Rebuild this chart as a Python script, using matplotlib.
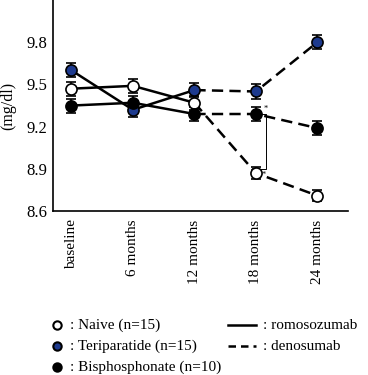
import matplotlib
matplotlib.use("Agg")
import matplotlib.pyplot as plt
from matplotlib.lines import Line2D

plt.rcParams['font.family'] = ['Liberation Serif', 'DejaVu Serif']

# datos
etiquetas = ['baseline', '6 months', '12 months', '18 months', '24 months']
naive = [9.47, 9.49, 9.37, 8.87, 8.71]
naive_err = [0.05, 0.05, 0.05, 0.04, 0.04]
teri = [9.60, 9.32, 9.46, 9.45, 9.80]
teri_err = [0.05, 0.05, 0.05, 0.05, 0.05]
bisf = [9.35, 9.37, 9.29, 9.29, 9.19]
bisf_err = [0.05, 0.05, 0.05, 0.05, 0.05]

azul = '#1d3a8e'
series = [
    (naive, naive_err, 'white', ': Naive (n=15)'),
    (teri, teri_err, azul, ': Teriparatide (n=15)'),
    (bisf, bisf_err, 'black', ': Bisphosphonate (n=10)'),
]

fig = plt.figure(figsize=(3.68, 3.75), dpi=100)
ax = fig.add_axes([0.144, 0.437, 0.802, 0.563])

x = list(range(len(etiquetas)))
for vals, err, color, nombre in series:
    # tramo romosozumab (0-12 meses) y denosumab (12-24 meses)
    ax.plot(x[:3], vals[:3], color='black', lw=1.8, zorder=2)
    ax.plot(x[2:], vals[2:], color='black', lw=1.8, ls=(0, (4.5, 2.5)), zorder=2)
    ax.errorbar(x, vals, yerr=err, fmt='none', ecolor='black', elinewidth=1.2,
                capsize=3.5, capthick=1.2, zorder=3)
    ax.plot(x, vals, 'o', ms=8, mfc=color, mec='black', mew=1.2, ls='none', zorder=4)

# corchete de significancia a los 18 meses
xb = 3.17
ax.plot([3.08, xb, xb, 3.08], [bisf[3], bisf[3], naive[3] + 0.03, naive[3] + 0.03],
        color='black', lw=0.7, zorder=1)
ax.text(3.12, bisf[3] + 0.02, '*', fontsize=6)
ax.text(3.1, naive[3] - 0.03, '*', fontsize=6)

ax.set_xlim(-0.3, 4.5)
ax.set_ylim(8.6, 10.1)
ax.set_yticks([8.6, 8.9, 9.2, 9.5, 9.8])
ax.set_xticks(x)
ax.set_xticklabels(etiquetas, rotation=90, fontsize=11)
ax.tick_params(axis='y', labelsize=12, length=0, pad=4)
ax.tick_params(axis='x', length=0, pad=6)
ax.spines['top'].set_visible(False)
ax.spines['right'].set_visible(False)
ax.spines['left'].set_linewidth(1.2)
ax.spines['bottom'].set_linewidth(1.2)
ax.set_ylabel('(mg/dl)', fontsize=11.5)
ax.yaxis.set_label_coords(-0.125, 0.5)

# leyenda manual
filas = [0.133, 0.077, 0.021]
for (vals, err, color, nombre), fy in zip(series, filas):
    fig.add_artist(Line2D([0.155], [fy], marker='o', ms=6, mfc=color, mec='black',
                          mew=1.5, transform=fig.transFigure))
    fig.text(0.19, fy, nombre, fontsize=11, va='center')

estilos = [('-', ': romosozumab'), ((0, (3, 2)), ': denosumab')]
for (ls, nombre), fy in zip(estilos, filas[:2]):
    fig.add_artist(Line2D([0.62, 0.695], [fy, fy], color='black', lw=1.8, ls=ls,
                          transform=fig.transFigure))
    fig.text(0.715, fy, nombre, fontsize=11, va='center')

fig.savefig('out.png', dpi=100)
